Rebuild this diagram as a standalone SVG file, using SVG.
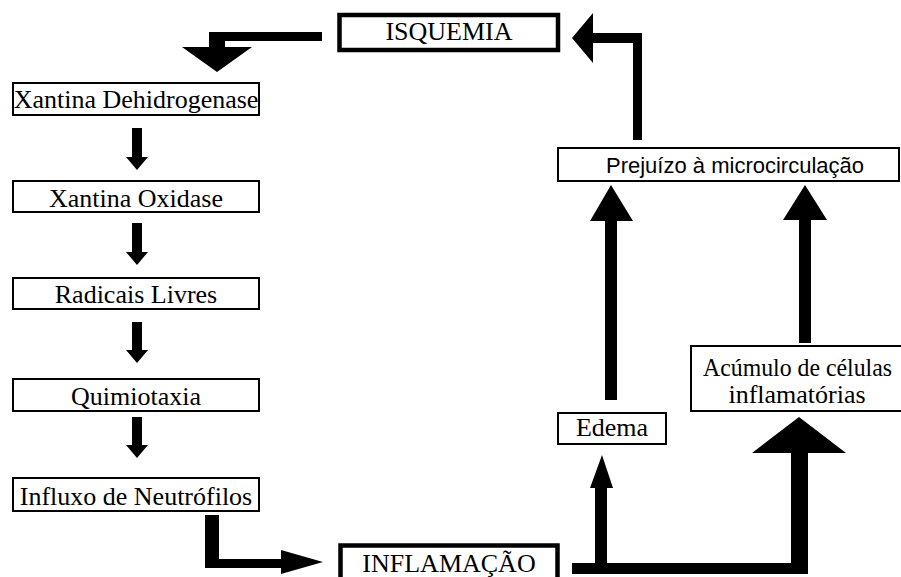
<svg xmlns="http://www.w3.org/2000/svg" width="901" height="577" viewBox="0 0 901 577">
<style>
.box{fill:#fff;stroke:#000;stroke-width:2}
.thick{fill:#fff;stroke:#000;stroke-width:4.5}
.t{font-family:"Liberation Serif","Times New Roman",serif;font-size:26px;fill:#000;text-anchor:middle}
.s{font-family:"Liberation Sans",Arial,sans-serif;font-size:22px;fill:#000;text-anchor:middle}
.arr{fill:#000;stroke:none}
</style>
<rect width="901" height="577" fill="#fff"/>
<g id="connectors">
<polygon class="arr" points="322,32 209,32 209,47 182,47 217,72 252,47 225,47 225,41 322,41"/>
<polygon class="arr" points="132,128 142,128 142,157 148,157 137,170 126,157 132,157"/>
<polygon class="arr" points="132,223 142,223 142,252 148,252 137,265 126,252 132,252"/>
<polygon class="arr" points="132,322 142,322 142,350 148,350 137,363 126,350 132,350"/>
<polygon class="arr" points="132,417 142,417 142,445 148,445 137,458 126,445 132,445"/>
<polygon class="arr" points="205,515 219,515 219,559 281,559 281,550 323,562 281,574 281,568 205,568"/>
<polygon class="arr" points="572,574 808,574 808,453 846,453 799,417 752,453 791,453 791,563 607,563 607,488 613,488 602,455 590,488 595,488 595,563 572,563"/>
<polygon class="arr" points="605,400 617,400 617,221 633,221 611,185 590,221 605,221"/>
<polygon class="arr" points="799,343 811,343 811,220 827,220 805,185 783,220 799,220"/>
<polygon class="arr" points="642,140 642,33 593,33 593,13 572,38 593,63 593,43 633,43 633,140"/>
</g>
<g id="isquemia">
<rect class="thick" x="339.5" y="15" width="218.5" height="35"/>
<text class="t" x="449" y="40">ISQUEMIA</text>
</g>
<g id="xantina-dehidrogenase">
<rect class="box" x="13" y="83" width="246" height="32"/>
<text class="t" x="136" y="108">Xantina Dehidrogenase</text>
</g>
<g id="xantina-oxidase">
<rect class="box" x="13" y="181" width="246" height="31"/>
<text class="t" x="136" y="207">Xantina Oxidase</text>
</g>
<g id="radicais-livres">
<rect class="box" x="13" y="278" width="246" height="31"/>
<text class="t" x="136" y="303">Radicais Livres</text>
</g>
<g id="quimiotaxia">
<rect class="box" x="13" y="379" width="246" height="32"/>
<text class="t" x="136" y="405">Quimiotaxia</text>
</g>
<g id="influxo">
<rect class="box" x="13" y="478" width="246" height="33"/>
<text class="t" x="136" y="505">Influxo de Neutrófilos</text>
</g>
<g id="inflamacao">
<rect class="thick" x="340.5" y="545.5" width="217" height="40"/>
<text class="t" x="449" y="572">INFLAMAÇÃO</text>
</g>
<g id="edema">
<rect class="box" x="558" y="413" width="108" height="31"/>
<text class="t" x="612" y="436">Edema</text>
</g>
<g id="acumulo">
<rect class="box" x="691" y="346" width="220" height="65"/>
<text class="t" x="703" y="376" style="text-anchor:start" textLength="189" lengthAdjust="spacingAndGlyphs">Acúmulo de células</text>
<text class="t" x="797" y="403">inflamatórias</text>
</g>
<g id="prejuizo">
<rect class="box" x="558" y="148" width="341" height="33"/>
<text class="s" x="735" y="173">Prejuízo à microcirculação</text>
</g>
</svg>
